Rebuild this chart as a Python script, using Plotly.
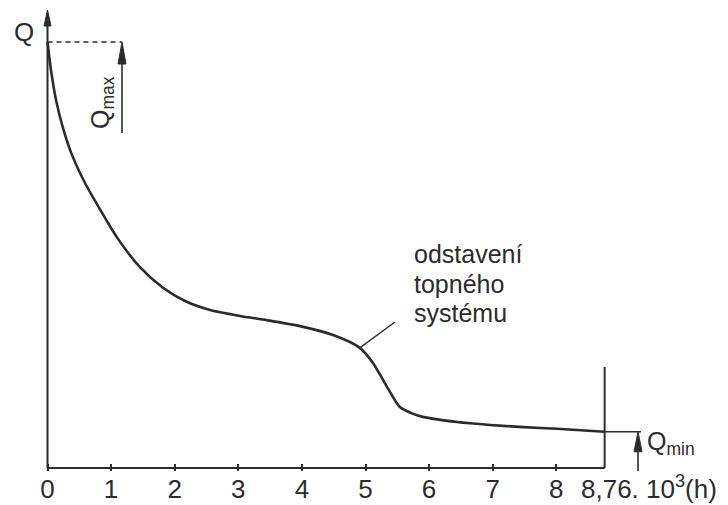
import plotly.graph_objects as go

# ---- data (time in 10^3 h, heat demand relative to Q_max) ----
hours_k = [0.0, 0.055, 0.134, 0.244, 0.385, 0.59, 0.83, 1.09, 1.45, 1.816, 2.162,
           2.555, 3.027, 3.451, 3.97, 4.49, 4.91, 5.12, 5.34, 5.54, 5.75, 5.90,
           6.44, 6.96, 7.48, 8.01, 8.76]
q_rel = [1.0, 0.934, 0.864, 0.798, 0.735, 0.669, 0.606, 0.542, 0.472, 0.423,
         0.392, 0.371, 0.357, 0.347, 0.333, 0.312, 0.282, 0.246, 0.190, 0.143,
         0.127, 0.120, 0.108, 0.101, 0.096, 0.092, 0.085]
tick_vals = [0, 1, 2, 3, 4, 5, 6, 7, 8]
tick_text = ["0", "1", "2", "3", "4", "5", "6", "7", "8"]
end_label = "8,76. 10<sup>3</sup>(h)"
note_lines = ["odstavení", "topného", "systému"]
note_index = 16          # curve point where the leader line starts

X_END = hours_k[-1]
Q_MAX = q_rel[0]
Q_MIN = q_rel[-1]

# ---- layout geometry (screen pixels; page body has an 8 px margin) ----
OFF = 8
VW, VH = 728, 505
W, H = VW - OFF, VH - OFF
SX = 63.6     # px per 10^3 h
SY = 426.0    # px per unit Q
X0 = 47.5     # screen px of x = 0
Y0 = 468.0    # screen px of y = 0
PLOT_BOTTOM = 471.0
B_MARGIN = VH - PLOT_BOTTOM


def dx(p):
    return (p - X0) / SX


def dy(p):
    return (Y0 - p) / SY


x_range = [dx(OFF), dx(VW)]
y_range = [dy(PLOT_BOTTOM), dy(OFF)]

INK = "#2b2b2b"
FONT = "Liberation Sans"

fig = go.Figure()
fig.add_trace(go.Scatter(
    x=hours_k, y=q_rel, mode="lines",
    line=dict(color=INK, width=2.6, shape="spline", smoothing=0.7),
    hoverinfo="skip", showlegend=False))


def up_head(x, y, length_px, half_w_px):
    hx = half_w_px / SX
    hy = length_px / SY
    return f"M{x},{y} L{x - hx},{y - hy} L{x + hx},{y - hy} Z"


shapes = []
line = dict(color=INK, width=2)
# axes
y_tip = dy(10)
shapes.append(dict(type="line", x0=0, y0=0, x1=0, y1=y_tip - 0.02, line=line))
shapes.append(dict(type="path", path=up_head(0, y_tip, 16, 3.5),
                   fillcolor=INK, line=dict(color=INK, width=1)))
shapes.append(dict(type="line", x0=0, y0=0, x1=X_END, y1=0, line=line))
# end-of-year vertical line
shapes.append(dict(type="line", x0=X_END, y0=0, x1=X_END, y1=dy(367), line=line))
# Q_max level and arrow
qmax_x = dx(122)
shapes.append(dict(type="line", x0=0, y0=Q_MAX, x1=qmax_x, y1=Q_MAX,
                   line=dict(color=INK, width=1.4, dash="5px,4px")))
shapes.append(dict(type="line", x0=qmax_x, y0=dy(133), x1=qmax_x,
                   y1=Q_MAX - 0.03, line=dict(color=INK, width=1.6)))
shapes.append(dict(type="path", path=up_head(qmax_x, Q_MAX, 22, 4),
                   fillcolor=INK, line=dict(color=INK, width=1)))
# Q_min level and arrow
qmin_x = dx(638)
shapes.append(dict(type="line", x0=X_END, y0=Q_MIN, x1=dx(641), y1=Q_MIN,
                   line=dict(color=INK, width=1.6)))
shapes.append(dict(type="line", x0=qmin_x, y0=dy(473), x1=qmin_x, y1=Q_MIN - 0.03,
                   line=dict(color=INK, width=1.6)))
shapes.append(dict(type="path", path=up_head(qmin_x, Q_MIN, 20, 4),
                   fillcolor=INK, line=dict(color=INK, width=1)))
# leader line of the note
shapes.append(dict(type="line", x0=hours_k[note_index], y0=q_rel[note_index],
                   x1=dx(395), y1=dy(322), line=dict(color=INK, width=1.4)))

ann = []
# axis title Q
ann.append(dict(x=dx(24), y=dy(32), text="Q", showarrow=False,
                xanchor="center", yanchor="middle",
                font=dict(family=FONT, size=26, color=INK)))
# Q_max label (rotated)
ann.append(dict(x=dx(102), y=dy(103), text="Q<sub>max</sub>",
                textangle=-90, showarrow=False, xanchor="center", yanchor="middle",
                font=dict(family=FONT, size=25, color=INK)))
# Q_min label
ann.append(dict(x=dx(645), y=dy(443), text="Q<sub>min</sub>",
                showarrow=False, xanchor="left", yanchor="middle",
                font=dict(family=FONT, size=25, color=INK)))
# end-of-axis label (below the plot area -> paper y)
ann.append(dict(x=dx(579), xref="x", yref="paper",
                y=(PLOT_BOTTOM - 487) / (PLOT_BOTTOM - OFF), text=end_label,
                showarrow=False, xanchor="left", yanchor="middle",
                font=dict(family=FONT, size=26, color=INK)))
# note text
for i, t in enumerate(note_lines):
    ann.append(dict(x=dx(412), y=dy(254 + 29.5 * i), text=t,
                    showarrow=False, xanchor="left", yanchor="middle",
                    font=dict(family=FONT, size=25, color=INK)))

fig.update_layout(
    width=W, height=H,
    margin=dict(l=0, r=0, t=0, b=B_MARGIN, pad=0),
    paper_bgcolor="white", plot_bgcolor="white",
    shapes=shapes, annotations=ann, showlegend=False,
    xaxis=dict(range=x_range, tickvals=tick_vals, ticktext=tick_text,
               ticks="inside", ticklen=7, tickwidth=1.5, tickcolor=INK,
               showgrid=False, zeroline=False, showline=False, fixedrange=True,
               tickfont=dict(family=FONT, size=26, color=INK)),
    yaxis=dict(range=y_range, showticklabels=False, ticks="", showgrid=False,
               zeroline=False, showline=False, fixedrange=True),
)

fig.write_html("out.html")
